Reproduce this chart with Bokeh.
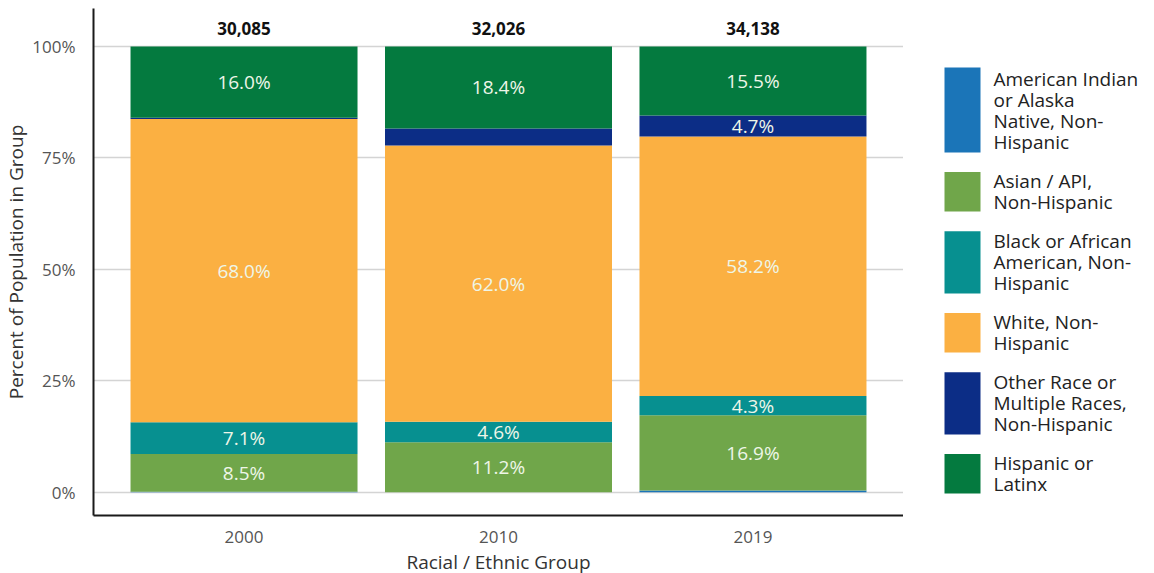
from bokeh.plotting import figure
from bokeh.models import (FactorRange, Range1d, ColumnDataSource, FixedTicker,
                          PrintfTickFormatter)
from bokeh.layouts import row
from bokeh.embed import file_html
from bokeh.resources import INLINE
from bokeh.core.properties import value

# ---------------- data ----------------
years = ["2000", "2010", "2019"]
totals = [30085, 32026, 34138]

group_keys = ["aian", "asian", "black", "white", "other", "hispanic"]
legend_labels = [
    "American Indian\nor Alaska\nNative, Non-\nHispanic",
    "Asian / API,\nNon-Hispanic",
    "Black or African\nAmerican, Non-\nHispanic",
    "White, Non-\nHispanic",
    "Other Race or\nMultiple Races,\nNon-Hispanic",
    "Hispanic or\nLatinx",
]
aian = [0.1, 0.0, 0.4]
asian = [8.5, 11.2, 16.9]
black = [7.1, 4.6, 4.3]
white = [68.0, 62.0, 58.2]
other = [0.3, 3.8, 4.7]
hispanic = [16.0, 18.4, 15.5]

colors = ["#1b75b8", "#70a64a", "#079090", "#fbb042", "#0c2d86", "#047a3f"]

FONT = "Open Sans"

series = [aian, asian, black, white, other, hispanic]
src = ColumnDataSource(dict(year=years, aian=aian, asian=asian, black=black,
                            white=white, other=other, hispanic=hispanic))

TOP, FH, BOT = 8, 507, 56

# ---------------- main figure ----------------
p = figure(x_range=FactorRange(*years, range_padding=0.0915, range_padding_units="absolute"),
           y_range=Range1d(-5.2, 108.5),
           frame_width=810, frame_height=FH,
           output_backend="svg", toolbar_location=None)
p.min_border_left = 93
p.min_border_right = 0
p.min_border_top = TOP
p.min_border_bottom = BOT
p.outline_line_color = None
p.background_fill_color = "white"

p.vbar_stack(group_keys, x="year", width=0.892, source=src,
             fill_color=colors, line_color=None)

# segment labels
lx, ly, lt = [], [], []
for i, yr in enumerate(years):
    base = 0.0
    for s in series:
        v = s[i]
        if v >= 4.0:
            lx.append(yr)
            ly.append(base + v / 2)
            lt.append(f"{v:.1f}%")
        base += v
p.text(x="year", y="y", text="t",
       source=ColumnDataSource(dict(year=lx, y=ly, t=lt)),
       text_font=value(FONT), text_font_size="19px", text_color="#eef6e8",
       text_align="center", text_baseline="middle")

# totals
p.text(x="year", y="y", text="t",
       source=ColumnDataSource(dict(year=years, y=[104.0] * len(years),
                                    t=[f"{t:,}" for t in totals])),
       text_font=value(FONT), text_font_size="17px", text_font_style="bold",
       text_color="#111111", text_align="center", text_baseline="middle")

# axes
p.yaxis.ticker = FixedTicker(ticks=[0, 25, 50, 75, 100])
p.yaxis.formatter = PrintfTickFormatter(format="%d%%")
p.yaxis.axis_label = "Percent of Population in Group"
p.xaxis.axis_label = "Racial / Ethnic Group"
for ax in (p.xaxis, p.yaxis):
    ax.axis_line_color = "#1a1a1a"
    ax.axis_line_width = 2
    ax.major_tick_line_color = None
    ax.minor_tick_line_color = None
    ax.major_label_text_font = FONT
    ax.major_label_text_font_size = "17px"
    ax.major_label_text_color = "#555555"
    ax.axis_label_text_font = FONT
    ax.axis_label_text_font_size = "19px"
    ax.axis_label_text_font_style = "normal"
    ax.axis_label_text_color = "#333333"
p.xaxis.major_label_standoff = 9
p.yaxis.major_label_standoff = 12
p.xaxis.axis_label_standoff = 3
p.yaxis.axis_label_standoff = 0

p.xgrid.grid_line_color = None
p.ygrid.grid_line_color = "#d4d4d4"
p.ygrid.grid_line_width = 1.5

# ---------------- legend figure ----------------
LW = 243
leg = figure(frame_width=LW, frame_height=FH,
             x_range=Range1d(0, LW), y_range=Range1d(FH, 0),
             x_axis_location=None, y_axis_location=None,
             output_backend="svg", toolbar_location=None)
leg.min_border_left = 0
leg.min_border_right = 0
leg.min_border_top = TOP
leg.min_border_bottom = BOT
leg.grid.visible = False
leg.outline_line_color = None

line_h = 21.0
top = 59.0
rl, rr, rt, rb, rc = [], [], [], [], []
tx, ty, tt = [], [], []
for lab, col in zip(legend_labels, colors):
    lines = lab.split("\n")
    n = len(lines)
    sh = 22.75 * n - 6
    rl.append(41); rr.append(77); rt.append(top); rb.append(top + sh); rc.append(col)
    block = line_h * n
    t0 = top + (sh - block) / 2
    for k, ln in enumerate(lines):
        tx.append(90); ty.append(t0 + line_h * k + line_h / 2); tt.append(ln)
    top += sh + 19.6

leg.quad(left="l", right="r", top="t", bottom="b", fill_color="c", line_color=None,
         source=ColumnDataSource(dict(l=rl, r=rr, t=rt, b=rb, c=rc)))
leg.text(x="x", y="y", text="t", source=ColumnDataSource(dict(x=tx, y=ty, t=tt)),
         text_font=value(FONT), text_font_size="19px", text_color="#222222",
         text_align="left", text_baseline="middle")

layout = row(p, leg, spacing=0)
open("out.html", "w").write(file_html(layout, INLINE))
